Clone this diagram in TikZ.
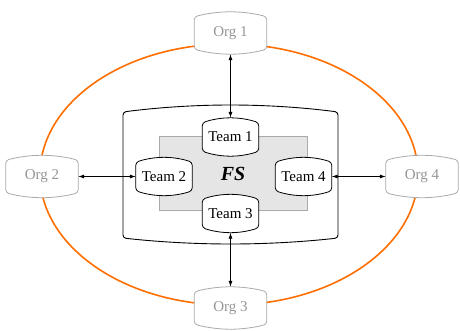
\documentclass[tikz,border=0pt]{standalone}
\usepackage{fontspec}
\setmainfont{Liberation Serif}
\usetikzlibrary{arrows.meta,calc}
\pgfdeclarelayer{back}
\pgfdeclarelayer{mid}
\pgfsetlayers{back,mid,main}
\definecolor{orgline}{RGB}{170,170,170}
\definecolor{orgtext}{RGB}{150,150,150}
\definecolor{ring}{RGB}{255,110,0}
\definecolor{fsfill}{RGB}{229,229,229}
\tikzset{
  org/.style={minimum width=72pt,minimum height=42pt,inner sep=0pt,text=orgtext,font=\fontsize{15}{17}\selectfont},
  team/.style={minimum width=56pt,minimum height=38pt,inner sep=0pt,font=\fontsize{15}{17}\selectfont},
  link/.style={{Latex[length=6pt,width=4pt]}-{Latex[length=6pt,width=4pt]},line width=0.7pt}
}
% outline bulging at top and bottom, drawn round a node
\newcommand\barrel[2]{%
  \draw[#2,fill=white,line width=0.8pt,rounded corners=3pt]
    ($(#1.north west)+(0,-5pt)$) parabola bend (#1.north) ($(#1.north east)+(0,-5pt)$)
    -- ($(#1.south east)+(0,5pt)$) parabola bend (#1.south) ($(#1.south west)+(0,5pt)$)
    -- cycle;}

\begin{document}
\begin{tikzpicture}[x=1pt,y=1pt]
  \useasboundingbox (0,0) rectangle (460,330);

  % organisations round the ring
  \node[org] (o1) at (230.5,297) {Org 1};
  \node[org] (o2) at (42,153.5) {Org 2};
  \node[org] (o3) at (230.5,22) {Org 3};
  \node[org] (o4) at (422,153.5) {Org 4};

  % teams inside FS
  \node[team] (t1) at (230.5,193) {Team 1};
  \node[team] (t2) at (164,153.5) {Team 2};
  \node[team] (t3) at (230.5,116.5) {Team 3};
  \node[team] (t4) at (303.5,153.5) {Team 4};
  \node[font=\fontsize{20}{22}\selectfont\bfseries\itshape] (fs) at (233,156) {FS};

  \begin{pgfonlayer}{back}
    \draw[ring,line width=1.6pt] (229,155.5) ellipse [x radius=189,y radius=130.5];
    \draw[fill=white,line width=0.9pt,rounded corners=3pt]
      (123,218) parabola bend (230.5,225) (338,218) -- (338,92)
      parabola bend (230.5,86) (123,92) -- cycle;
    \draw[orgline,fill=fsfill,line width=0.7pt] (159,120) rectangle (307,194);
  \end{pgfonlayer}

  \begin{pgfonlayer}{mid}
    \foreach \n in {o1,o2,o3,o4} {\barrel{\n}{orgline}}
    \foreach \n in {t1,t2,t3,t4} {\barrel{\n}{black}}
  \end{pgfonlayer}

  \draw[link] (o1) -- (t1);
  \draw[link] (o2) -- (t2);
  \draw[link] (o3) -- (t3);
  \draw[link] (o4) -- (t4);
\end{tikzpicture}
\end{document}
